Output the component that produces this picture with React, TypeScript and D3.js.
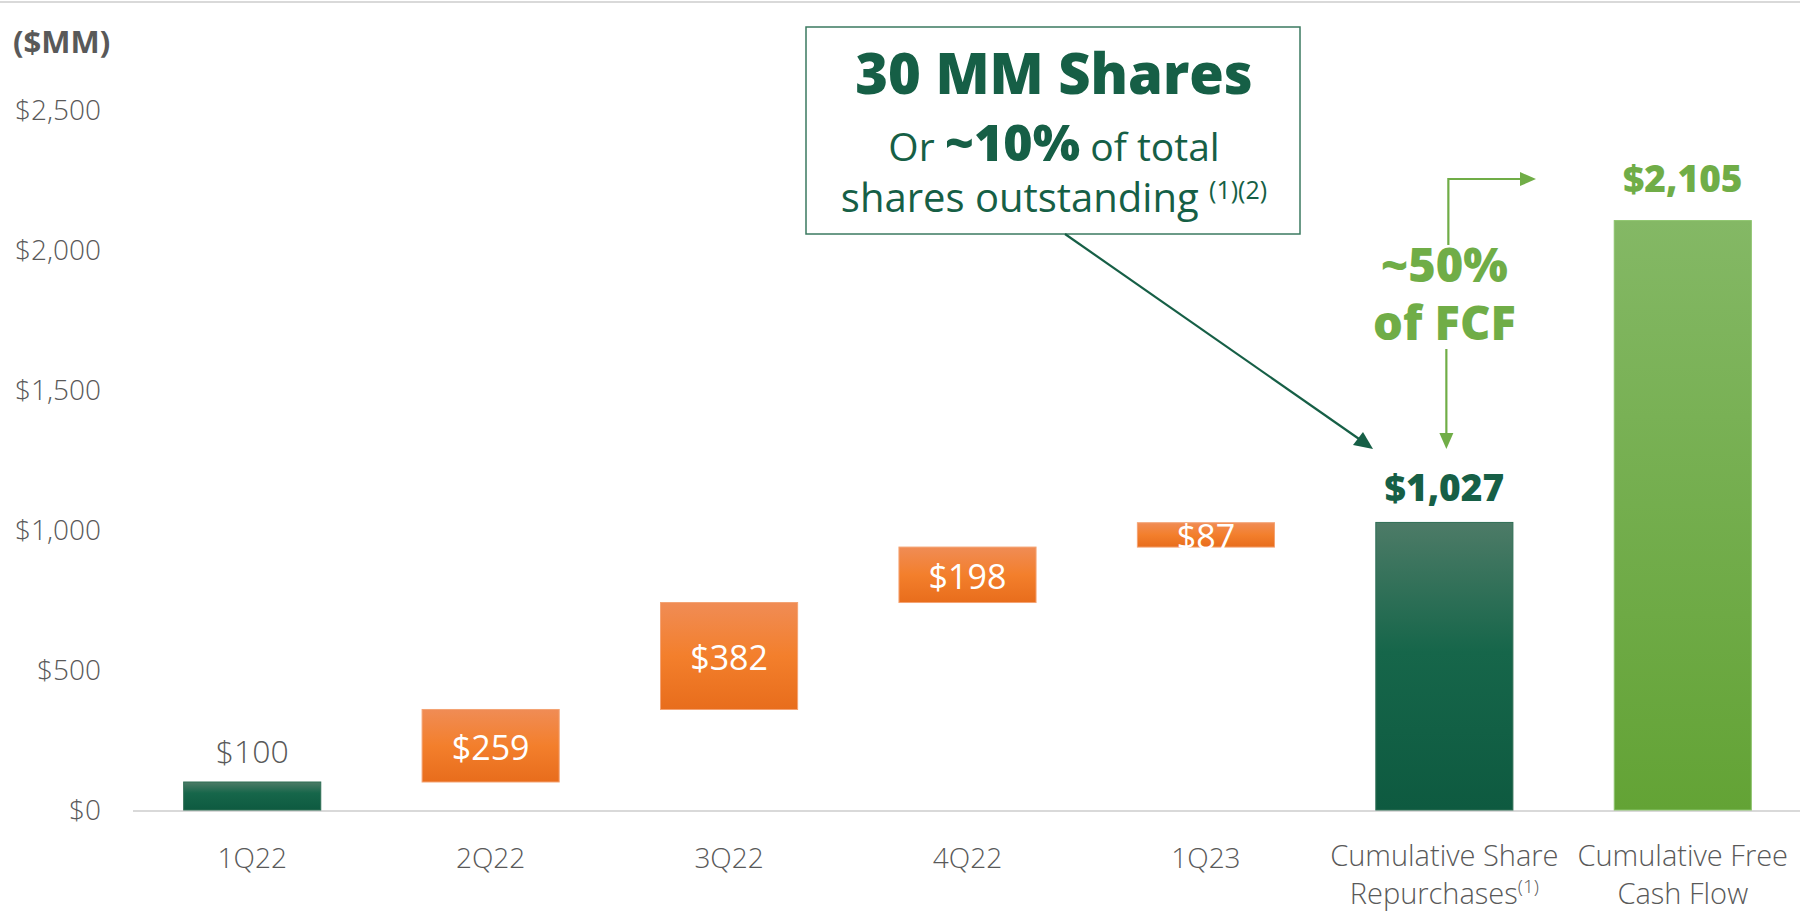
import React from "react";
import * as d3 from "d3";

const categories = ["1Q22", "2Q22", "3Q22", "4Q22", "1Q23", "Cumulative Share Repurchases", "Cumulative Free Cash Flow"];
const categoryLines = [["1Q22"], ["2Q22"], ["3Q22"], ["4Q22"], ["1Q23"], ["Cumulative Share", "Repurchases"], ["Cumulative Free", "Cash Flow"]];
const categorySup = ["", "", "", "", "", "(1)", ""];
const quarterlyRepurchases = [100, 259, 382, 198, 87];
const cumulativeRepurchases = 1027;
const cumulativeFCF = 2105;
const yTicks = [0, 500, 1000, 1500, 2000, 2500];

const W = 1800;
const H = 915;
const DARK = "#165f46";
const LIGHT = "#70ad47";
const GRAY = "#595959";
const FONT = "'Open Sans', sans-serif";

export default function App() {
  const x = d3.scaleBand<string>().domain(categories).range([133, 1802]).paddingInner(0.425).paddingOuter(0.2125);
  const y = d3.scaleLinear().domain([0, 2500]).range([810, 110]);
  const bw = x.bandwidth();

  let run = 0;
  const segs = quarterlyRepurchases.map((v, i) => {
    const s = { cat: categories[i], y0: run, y1: run + v, v, kind: i === 0 ? "first" : "step" };
    run += v;
    return s;
  });

  const fmt = (v: number) => "$" + d3.format(",")(v);
  const repX = (x(categories[5]) as number) + bw / 2;
  const fcfX = (x(categories[6]) as number) + bw / 2;

  return (
    <div style={{ position: "absolute", left: 0, top: 0 }}>
      <svg width={W} height={H} style={{ display: "block", background: "#fff" }} fontFamily={FONT}>
        <defs>
          <linearGradient id="gDark" x1="0" y1="0" x2="0" y2="1">
            <stop offset="0" stopColor="#4d7b67" />
            <stop offset="0.45" stopColor="#16664a" />
            <stop offset="1" stopColor="#0e5a40" />
          </linearGradient>
          <linearGradient id="gDarkSmall" x1="0" y1="0" x2="0" y2="1">
            <stop offset="0" stopColor="#4d7b67" />
            <stop offset="0.4" stopColor="#16664a" />
            <stop offset="1" stopColor="#0e5a40" />
          </linearGradient>
          <linearGradient id="gOrange" x1="0" y1="0" x2="0" y2="1">
            <stop offset="0" stopColor="#f08c55" />
            <stop offset="0.5" stopColor="#f37f2c" />
            <stop offset="1" stopColor="#e86d1c" />
          </linearGradient>
          <linearGradient id="gLight" x1="0" y1="0" x2="0" y2="1">
            <stop offset="0" stopColor="#84b865" />
            <stop offset="1" stopColor="#63a335" />
          </linearGradient>
        </defs>

        <line x1={0} x2={W} y1={2} y2={2} stroke="#d9d9d9" strokeWidth={2} />

        <text x={13} y={42} dy="0.35em" fontSize={31} fontWeight={700} fill={GRAY}>($MM)</text>

        {yTicks.map((t) => (
          <text key={t} x={101} y={y(t)} dy="0.35em" textAnchor="end" fontSize={28} fontWeight={300} fill={GRAY}>
            {fmt(t)}
          </text>
        ))}

        <line x1={133} x2={W} y1={y(0) + 1} y2={y(0) + 1} stroke="#d9d9d9" strokeWidth={2} />

        {segs.map((s) => {
          const bx = x(s.cat) as number;
          const top = y(s.y1);
          const bot = y(s.y0);
          const isFirst = s.kind === "first";
          return (
            <g key={s.cat}>
              <rect x={bx} y={top} width={bw} height={bot - top}
                fill={isFirst ? "url(#gDarkSmall)" : "url(#gOrange)"}
                stroke={isFirst ? "#2f6e55" : "#f4a373"} strokeWidth={1} />
              {isFirst ? (
                <text x={bx + bw / 2} y={top - 30} dy="0.35em" textAnchor="middle" fontSize={32} fontWeight={300} fill={GRAY}>{fmt(s.v)}</text>
              ) : (
                <text x={bx + bw / 2} y={(top + bot) / 2 + 2} dy="0.35em" textAnchor="middle" fontSize={34} fontWeight={400} fill="#fff">{fmt(s.v)}</text>
              )}
            </g>
          );
        })}

        <rect x={x(categories[5])} y={y(cumulativeRepurchases)} width={bw} height={y(0) - y(cumulativeRepurchases)} fill="url(#gDark)" stroke="#2f6e55" strokeWidth={1} />
        <text x={repX} y={y(cumulativeRepurchases) - 34} dy="0.35em" textAnchor="middle" fontSize={37} fontWeight={800} fill={DARK}>{fmt(cumulativeRepurchases)}</text>

        <rect x={x(categories[6])} y={y(cumulativeFCF)} width={bw} height={y(0) - y(cumulativeFCF)} fill="url(#gLight)" stroke="#8cc46c" strokeWidth={1} />
        <text x={fcfX} y={y(cumulativeFCF) - 42} dy="0.35em" textAnchor="middle" fontSize={37} fontWeight={800} fill={LIGHT}>{fmt(cumulativeFCF)}</text>

        {categories.map((c, i) => {
          const cx = (x(c) as number) + bw / 2;
          const multi = categoryLines[i].length > 1;
          return (
            <text key={c} x={cx} y={multi ? 856 : 858} textAnchor="middle" fontSize={multi ? 29 : 28} fontWeight={300} fill={GRAY}>
              {categoryLines[i].map((ln, j) => (
                <tspan key={j} x={cx} dy={j === 0 ? "0.35em" : 38}>
                  {ln}
                  {j === categoryLines[i].length - 1 && categorySup[i] ? (
                    <tspan fontSize={19} dy={-11}>{categorySup[i]}</tspan>
                  ) : null}
                </tspan>
              ))}
            </text>
          );
        })}

        <rect x={806} y={27} width={494} height={207} fill="#fff" stroke="#3b7a60" strokeWidth={1.5} />
        <text x={1054} y={74} dy="0.35em" textAnchor="middle" fontSize={56} fontWeight={800} fill={DARK}>30 MM Shares</text>
        <text x={1054} y={147} dy="0.35em" textAnchor="middle" fontSize={39} fontWeight={400} fill={DARK}>
          Or <tspan fontSize={50} fontWeight={800}>~10%</tspan> of total
        </text>
        <text x={1054} y={198} dy="0.35em" textAnchor="middle" fontSize={40} fontWeight={400} fill={DARK}>
          shares outstanding <tspan fontSize={25} dy={-13}>(1)(2)</tspan>
        </text>

        <line x1={1065} y1={234} x2={1362} y2={441} stroke={DARK} strokeWidth={2.2} />
        <polygon points="1373,449 1353,445 1363,432" fill={DARK} />

        <text x={repX} y={266} dy="0.35em" textAnchor="middle" fontSize={47} fontWeight={800} fill={LIGHT}>~50%</text>
        <text x={repX} y={324} dy="0.35em" textAnchor="middle" fontSize={47} fontWeight={800} fill={LIGHT}>of FCF</text>
        <path d={`M${repX + 4},245 V179 H1521`} fill="none" stroke={LIGHT} strokeWidth={2.2} />
        <polygon points="1536,179 1520,172 1520,186" fill={LIGHT} />
        <line x1={repX + 2} x2={repX + 2} y1={349} y2={434} stroke={LIGHT} strokeWidth={2.2} />
        <polygon points={`${repX + 2},449 ${repX - 5},433 ${repX + 9},433`} fill={LIGHT} />
      </svg>
    </div>
  );
}
